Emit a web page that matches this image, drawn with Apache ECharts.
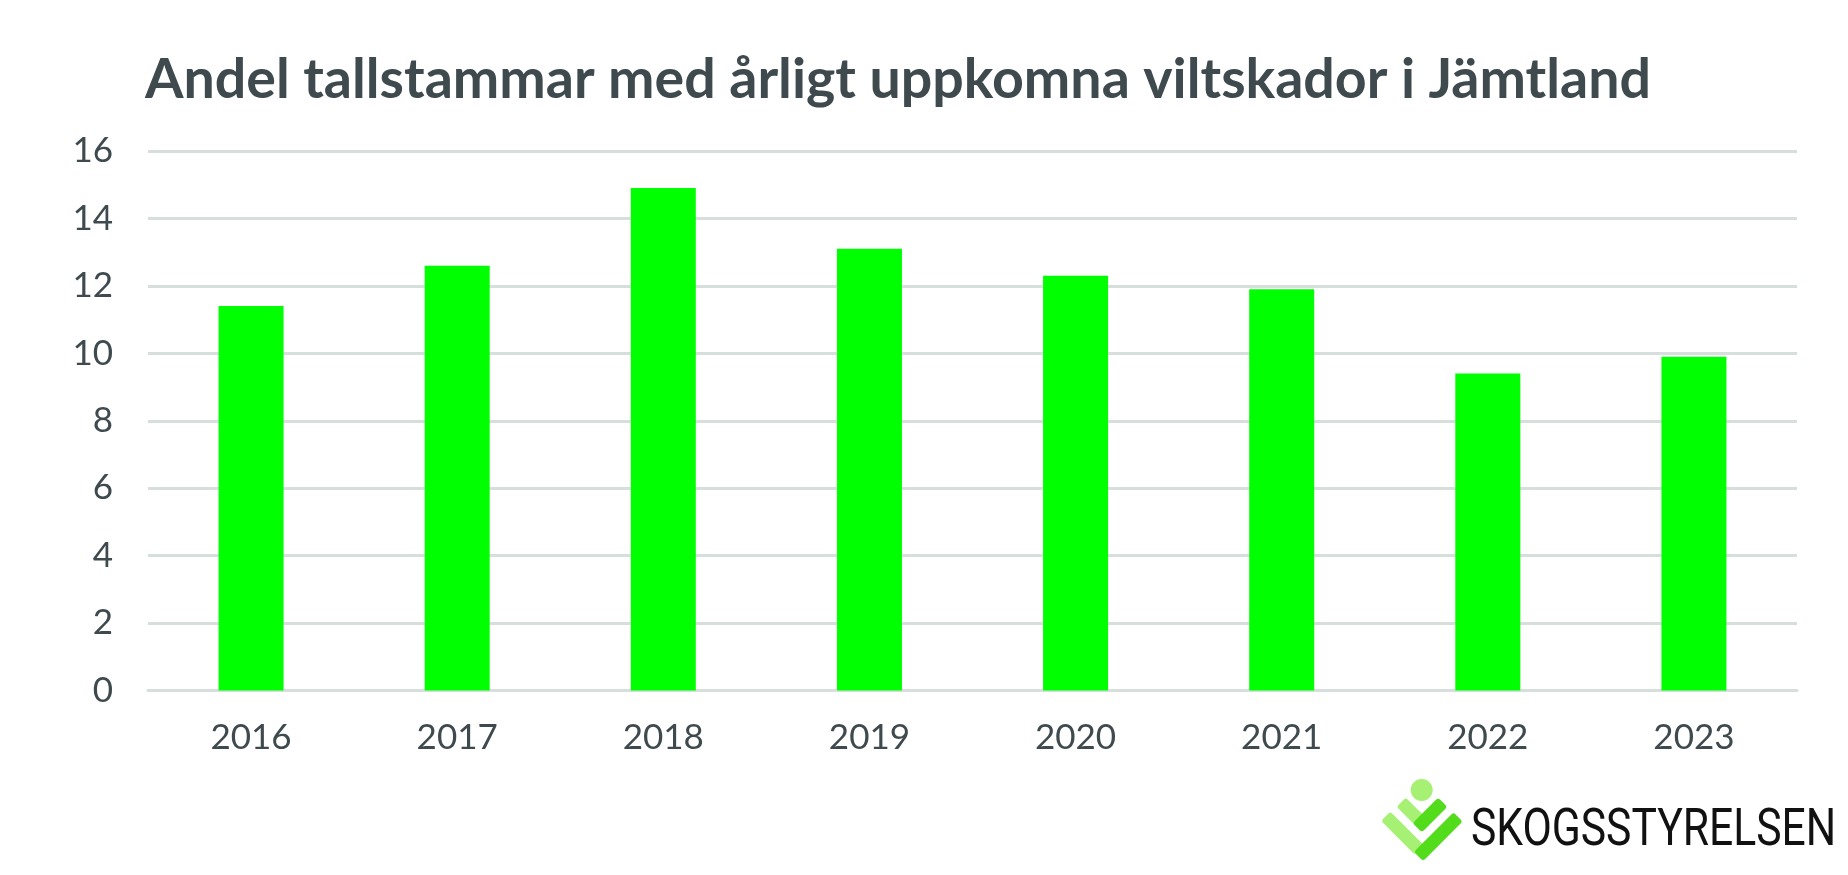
<!DOCTYPE html>
<html>
<head>
<meta charset="utf-8">
<script src="https://cdn.jsdelivr.net/npm/echarts@6/dist/echarts.min.js"></script>
<style>
html,body{margin:0;padding:0;background:#fff;}
#chart{width:1848px;height:875px;}
</style>
</head>
<body>
<div id="chart"></div>
<script>
const titleText = 'Andel tallstammar med årligt uppkomna viltskador i Jämtland';
const years = ['2016','2017','2018','2019','2020','2021','2022','2023'];
const shareValues = [11.4, 12.6, 14.9, 13.1, 12.3, 11.9, 9.4, 9.9];
const yTicks = [0, 2, 4, 6, 8, 10, 12, 14, 16];
const logoText = 'SKOGSSTYRELSEN';

const textColor = '#3f4a4e';
const gridColor = '#d6dfdc';
const chart = echarts.init(document.getElementById('chart'), null, {renderer:'canvas'});

const lightGreen = '#a6f174';
const darkGreen = '#52dc1c';
function bar(cx, cy, len, th, rot, color){
  return {type:'rect', x:cx, y:cy, rotation:rot,
    shape:{x:-len/2, y:-th/2, width:len, height:th, r:3},
    style:{fill:color}, silent:true};
}

chart.setOption({
  backgroundColor:'#ffffff',
  animation:false,
  title:{
    text:titleText,
    left:140, top:47,
    textStyle:{fontFamily:'Lato', fontWeight:'bold', fontSize:55.5, color:textColor}
  },
  grid:{left:148, right:51, top:151, bottom:184.5, containLabel:false},
  xAxis:{
    type:'category',
    data:years,
    axisLine:{show:true, lineStyle:{color:gridColor, width:3}},
    axisTick:{show:false},
    axisLabel:{fontFamily:'Lato', fontSize:35, color:textColor, margin:30}
  },
  yAxis:{
    type:'value',
    min:yTicks[0], max:yTicks[yTicks.length-1], interval:yTicks[1]-yTicks[0],
    axisLine:{show:false},
    axisTick:{show:false},
    splitLine:{show:true, lineStyle:{color:gridColor, width:3}},
    axisLabel:{fontFamily:'Lato', fontSize:35, color:textColor, margin:35}
  },
  series:[{
    type:'bar',
    data:shareValues,
    barWidth:65,
    itemStyle:{color:'#00ff00'}
  }],
  graphic:[
    bar(1402.7, 833.3, 48, 13, -Math.PI/4, lightGreen),
    bar(1410.7, 811.7, 27, 13, -Math.PI/4, lightGreen),
    bar(1430, 815, 36, 13, Math.PI/4, darkGreen),
    bar(1438.3, 836.7, 56, 13, Math.PI/4, darkGreen),
    {type:'circle', shape:{cx:1421.7, cy:790, r:11}, style:{fill:lightGreen}, silent:true},
    {type:'text', x:1471, y:831.7, scaleX:0.82,
      style:{text:logoText, fontFamily:'Roboto', fontSize:52, fill:'#111111', verticalAlign:'middle', align:'left'}, silent:true}
  ]
});
</script>
</body>
</html>
